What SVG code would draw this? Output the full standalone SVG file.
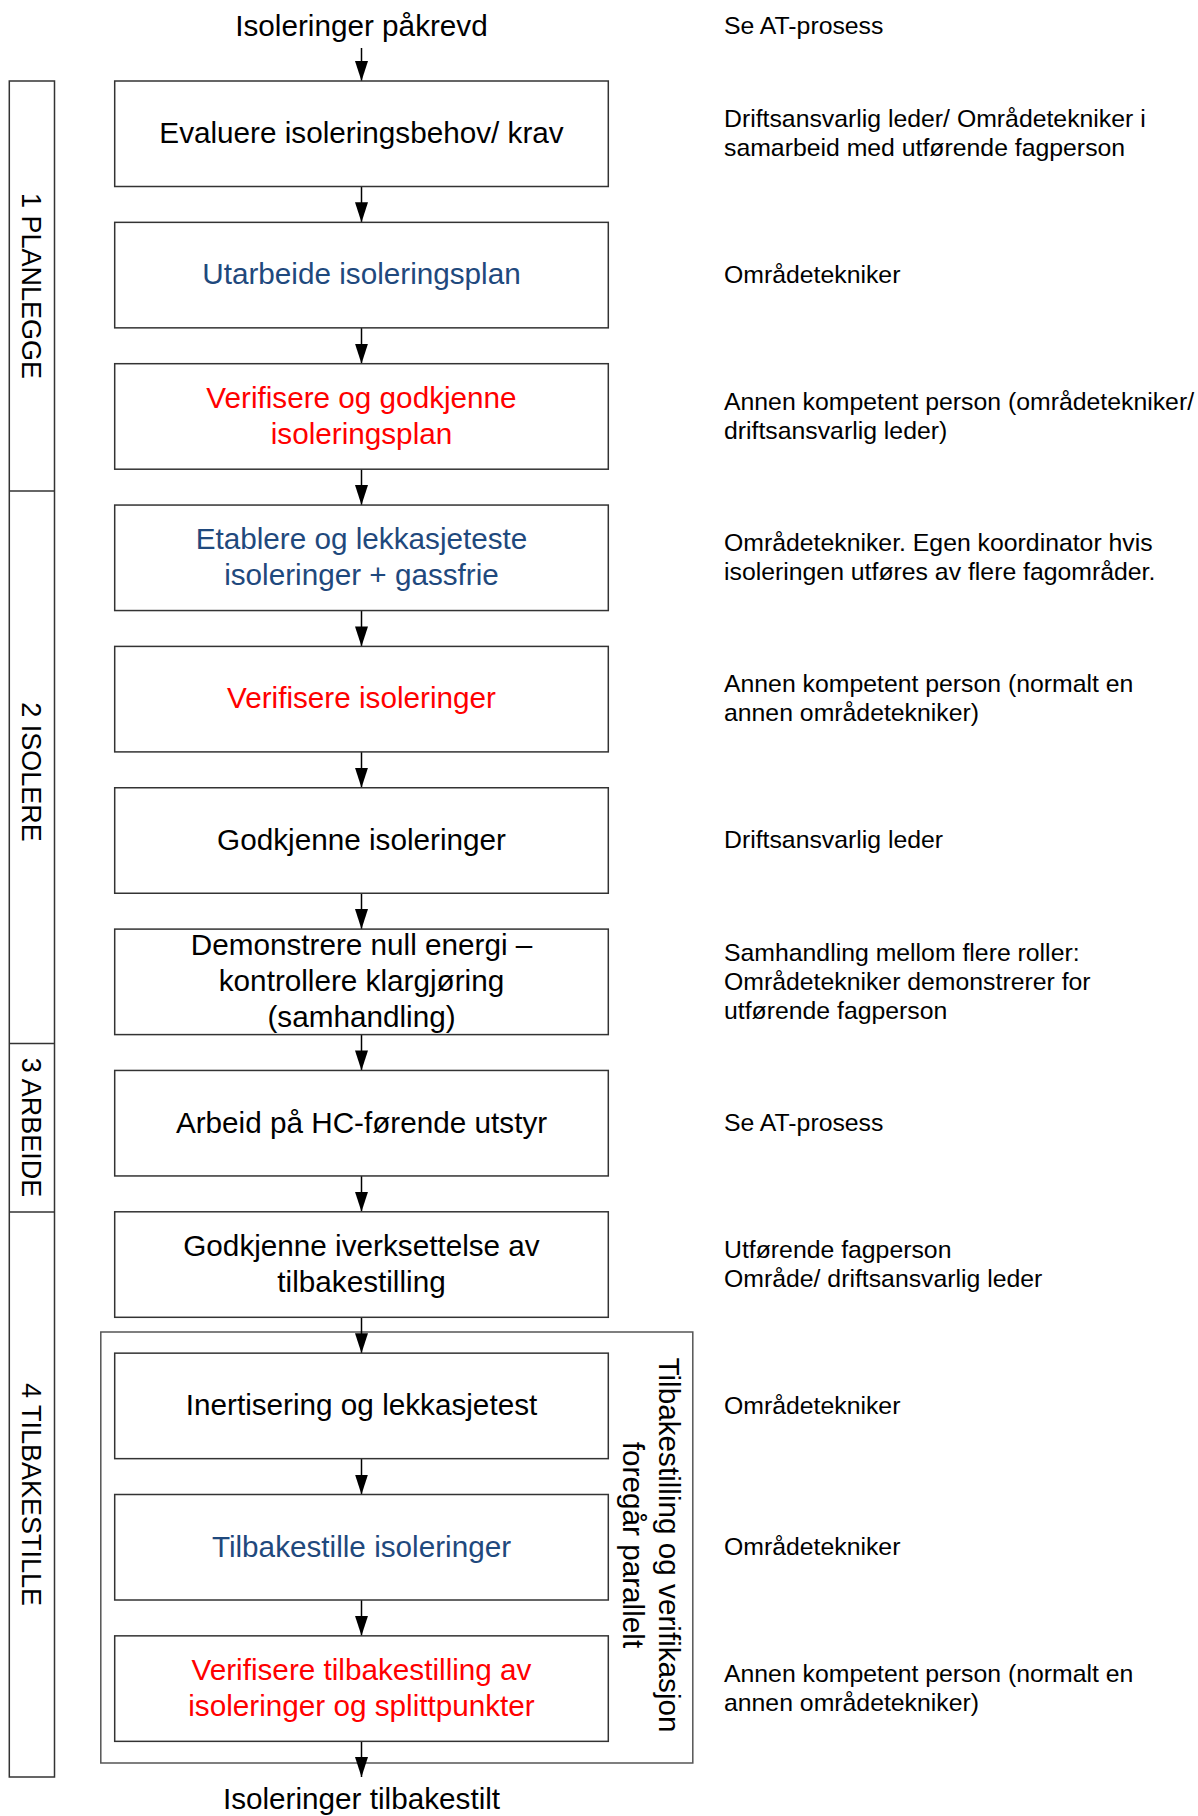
<svg xmlns="http://www.w3.org/2000/svg" width="1198" height="1816" viewBox="0 0 1198 1816">
<style>
text{font-family:"Liberation Sans",Arial,sans-serif;}
.bt{font-size:29.7px;text-anchor:middle;fill:#000;}
.blue{fill:#1F497D;}
.red{fill:#FF0000;}
.rt{font-size:24.8px;fill:#000;}
.lab{font-size:27px;text-anchor:middle;fill:#000;}
.box{fill:#fff;stroke:#333;stroke-width:1.5;}
.frame{fill:none;stroke:#555;stroke-width:1.5;}
.con{stroke:#000;stroke-width:1.5;fill:none;marker-end:url(#ah);}
</style>
<defs>
<marker id="ah" markerUnits="userSpaceOnUse" viewBox="0 0 20 13" refX="20" refY="6.5" markerWidth="20" markerHeight="13" orient="auto">
<path d="M0,0 L20,6.5 L0,13 Z" fill="#000"/>
</marker>
</defs>
<rect width="1198" height="1816" fill="#fff"/>

<g id="phases">
<rect class="frame" x="9.3" y="81" width="45.2" height="1696" style="stroke:#333"/>
<line x1="9.3" y1="491" x2="54.5" y2="491" stroke="#333" stroke-width="1.5"/>
<line x1="9.3" y1="1043.5" x2="54.5" y2="1043.5" stroke="#333" stroke-width="1.5"/>
<line x1="9.3" y1="1212" x2="54.5" y2="1212" stroke="#333" stroke-width="1.5"/>
<text class="lab" transform="translate(22.4,286) rotate(90)">1 PLANLEGGE</text>
<text class="lab" transform="translate(22.4,772) rotate(90)">2 ISOLERE</text>
<text class="lab" transform="translate(22.4,1127.5) rotate(90)">3 ARBEIDE</text>
<text class="lab" transform="translate(22.4,1494.5) rotate(90)">4 TILBAKESTILLE</text>
</g>

<g id="parallel-group">
<rect class="frame" x="100.8" y="1332" width="592" height="431"/>
<text class="bt" transform="translate(659,1545) rotate(90)"><tspan x="0" y="0">Tilbakestilling og verifikasjon</tspan><tspan x="0" y="36">foregår parallelt</tspan></text>
</g>

<g id="start"><text class="bt" x="361.5" y="36">Isoleringer påkrevd</text></g>
<g id="end"><text class="bt" x="361.5" y="1809">Isoleringer tilbakestilt</text></g>

<g id="connectors">
<line class="con" x1="361.5" y1="48" x2="361.5" y2="81"/>
<line class="con" x1="361.5" y1="186.5" x2="361.5" y2="222.35"/>
<line class="con" x1="361.5" y1="327.85" x2="361.5" y2="363.7"/>
<line class="con" x1="361.5" y1="469.2" x2="361.5" y2="505.05"/>
<line class="con" x1="361.5" y1="610.55" x2="361.5" y2="646.4"/>
<line class="con" x1="361.5" y1="751.9" x2="361.5" y2="787.75"/>
<line class="con" x1="361.5" y1="893.25" x2="361.5" y2="929.1"/>
<line class="con" x1="361.5" y1="1034.6" x2="361.5" y2="1070.45"/>
<line class="con" x1="361.5" y1="1175.95" x2="361.5" y2="1211.8"/>
<line class="con" x1="361.5" y1="1317.3" x2="361.5" y2="1353.15"/>
<line class="con" x1="361.5" y1="1458.65" x2="361.5" y2="1494.5"/>
<line class="con" x1="361.5" y1="1600" x2="361.5" y2="1635.85"/>
<line class="con" x1="361.5" y1="1741.35" x2="361.5" y2="1777"/>
</g>

<g id="n1"><rect class="box" x="114.7" y="81" width="493.6" height="105.5"/>
<text class="bt" x="361.5" y="143.1">Evaluere isoleringsbehov/ krav</text></g>
<g id="n2"><rect class="box" x="114.7" y="222.35" width="493.6" height="105.5"/>
<text class="bt blue" x="361.5" y="284.4">Utarbeide isoleringsplan</text></g>
<g id="n3"><rect class="box" x="114.7" y="363.7" width="493.6" height="105.5"/>
<text class="bt red" x="361.5" y="407.8"><tspan x="361.5">Verifisere og godkjenne</tspan><tspan x="361.5" dy="36">isoleringsplan</tspan></text></g>
<g id="n4"><rect class="box" x="114.7" y="505.05" width="493.6" height="105.5"/>
<text class="bt blue" x="361.5" y="549.1"><tspan x="361.5">Etablere og lekkasjeteste</tspan><tspan x="361.5" dy="36">isoleringer + gassfrie</tspan></text></g>
<g id="n5"><rect class="box" x="114.7" y="646.4" width="493.6" height="105.5"/>
<text class="bt red" x="361.5" y="708.45">Verifisere isoleringer</text></g>
<g id="n6"><rect class="box" x="114.7" y="787.75" width="493.6" height="105.5"/>
<text class="bt" x="361.5" y="849.8">Godkjenne isoleringer</text></g>
<g id="n7"><rect class="box" x="114.7" y="929.1" width="493.6" height="105.5"/>
<text class="bt" x="361.5" y="955.2"><tspan x="361.5">Demonstrere null energi –</tspan><tspan x="361.5" dy="36">kontrollere klargjøring</tspan><tspan x="361.5" dy="36">(samhandling)</tspan></text></g>
<g id="n8"><rect class="box" x="114.7" y="1070.45" width="493.6" height="105.5"/>
<text class="bt" x="361.5" y="1132.5">Arbeid på HC-førende utstyr</text></g>
<g id="n9"><rect class="box" x="114.7" y="1211.8" width="493.6" height="105.5"/>
<text class="bt" x="361.5" y="1255.85"><tspan x="361.5">Godkjenne iverksettelse av</tspan><tspan x="361.5" dy="36">tilbakestilling</tspan></text></g>
<g id="n10"><rect class="box" x="114.7" y="1353.15" width="493.6" height="105.5"/>
<text class="bt" x="361.5" y="1415.2">Inertisering og lekkasjetest</text></g>
<g id="n11"><rect class="box" x="114.7" y="1494.5" width="493.6" height="105.5"/>
<text class="bt blue" x="361.5" y="1556.55">Tilbakestille isoleringer</text></g>
<g id="n12"><rect class="box" x="114.7" y="1635.85" width="493.6" height="105.5"/>
<text class="bt red" x="361.5" y="1679.9"><tspan x="361.5">Verifisere tilbakestilling av</tspan><tspan x="361.5" dy="36">isoleringer og splittpunkter</tspan></text></g>

<g id="roles">
<text class="rt" x="724" y="34">Se AT-prosess</text>
<text class="rt" x="724" y="127"><tspan x="724">Driftsansvarlig leder/ Områdetekniker i</tspan><tspan x="724" dy="29">samarbeid med utførende fagperson</tspan></text>
<text class="rt" x="724" y="282.9">Områdetekniker</text>
<text class="rt" x="724" y="409.75"><tspan x="724">Annen kompetent person (områdetekniker/</tspan><tspan x="724" dy="29">driftsansvarlig leder)</tspan></text>
<text class="rt" x="724" y="551.1"><tspan x="724">Områdetekniker. Egen koordinator hvis</tspan><tspan x="724" dy="29">isoleringen utføres av flere fagområder.</tspan></text>
<text class="rt" x="724" y="692.45"><tspan x="724">Annen kompetent person (normalt en</tspan><tspan x="724" dy="29">annen områdetekniker)</tspan></text>
<text class="rt" x="724" y="848.3">Driftsansvarlig leder</text>
<text class="rt" x="724" y="960.65"><tspan x="724">Samhandling mellom flere roller:</tspan><tspan x="724" dy="29">Områdetekniker demonstrerer for</tspan><tspan x="724" dy="29">utførende fagperson</tspan></text>
<text class="rt" x="724" y="1131">Se AT-prosess</text>
<text class="rt" x="724" y="1257.85"><tspan x="724">Utførende fagperson</tspan><tspan x="724" dy="29">Område/ driftsansvarlig leder</tspan></text>
<text class="rt" x="724" y="1413.7">Områdetekniker</text>
<text class="rt" x="724" y="1555.05">Områdetekniker</text>
<text class="rt" x="724" y="1681.9"><tspan x="724">Annen kompetent person (normalt en</tspan><tspan x="724" dy="29">annen områdetekniker)</tspan></text>
</g>
</svg>
